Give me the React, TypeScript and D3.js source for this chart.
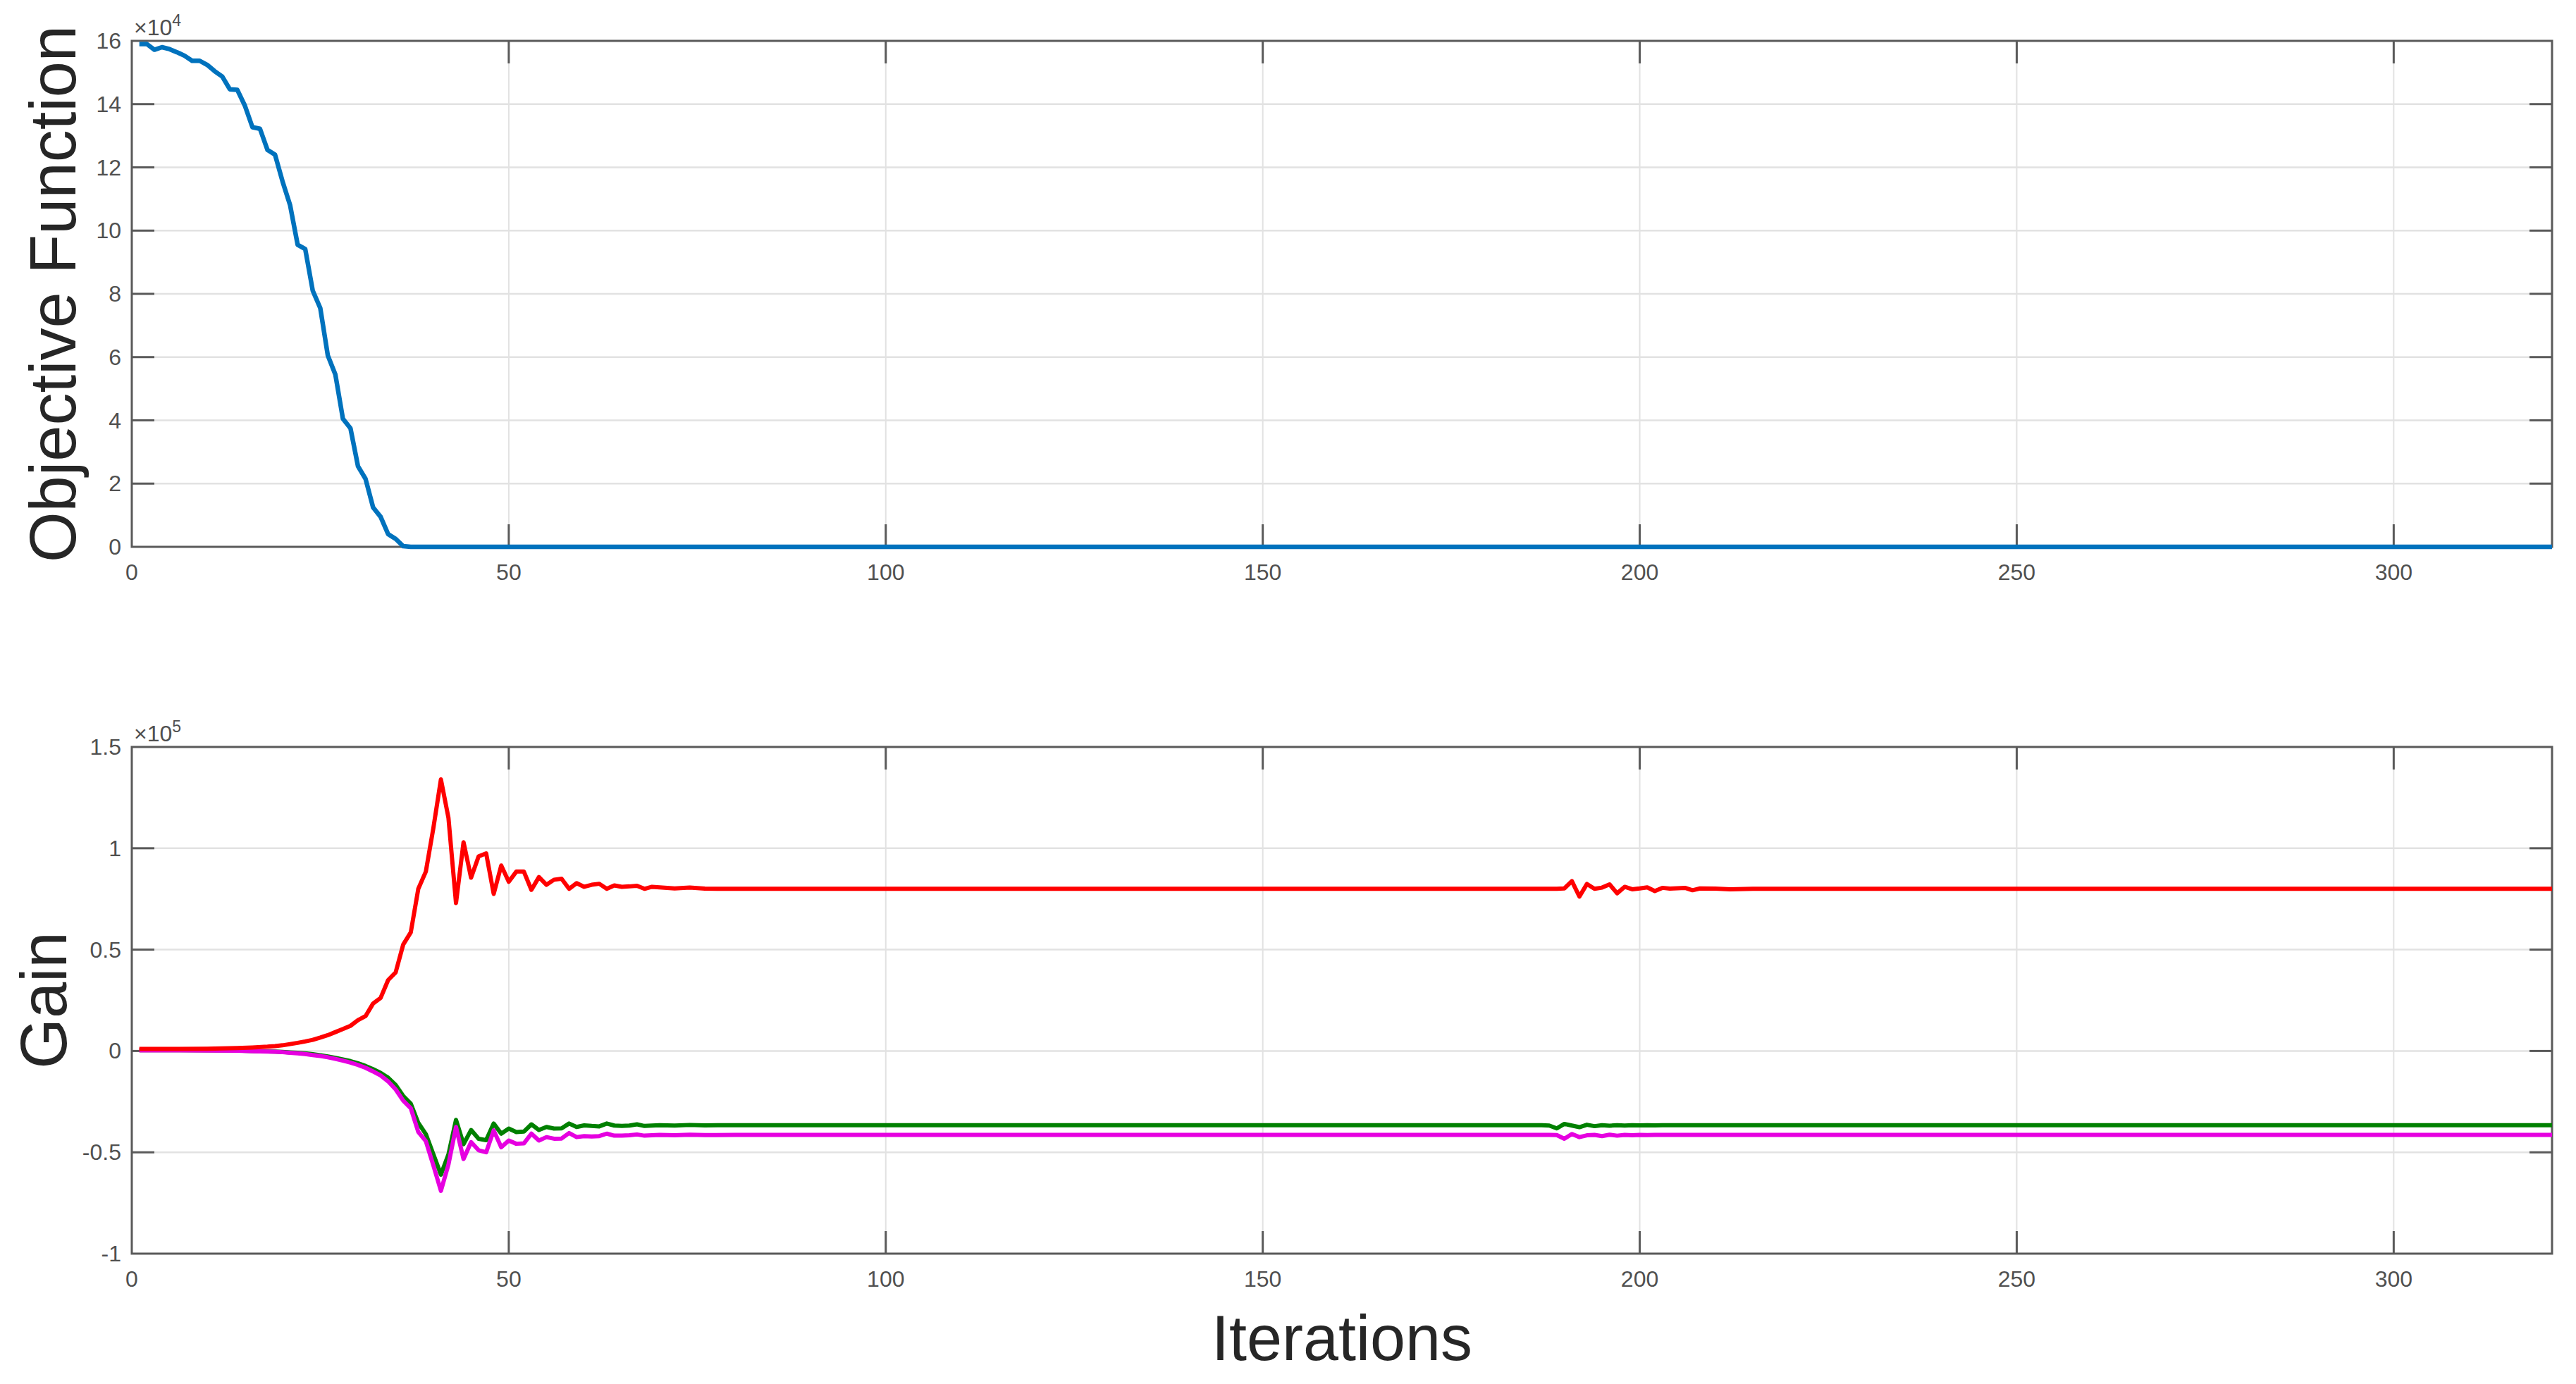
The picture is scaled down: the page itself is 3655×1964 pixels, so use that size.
import { scaleLinear, line } from "d3";

// objective function (x1e4) per iteration
const objIter = [
  1, 2, 3, 4, 5, 6, 7, 8, 9, 10, 11, 12, 13, 14, 15, 16, 17, 18, 19, 20,
  21, 22, 23, 24, 25, 26, 27, 28, 29, 30, 31, 32, 33, 34, 35, 36, 37, 321,
];
const objValue = [
  15.9, 15.9, 15.72, 15.8, 15.74, 15.64, 15.53, 15.37, 15.37, 15.24, 15.04,
  14.87, 14.47, 14.45, 13.95, 13.27, 13.22, 12.55, 12.4, 11.55, 10.8, 9.55,
  9.42, 8.1, 7.55, 6.05, 5.45, 4.05, 3.75, 2.55, 2.15, 1.25, 0.95, 0.4, 0.25,
  0.02, 0, 0,
];

// gains (x1e5), shared iteration list
const gainIter = [
  1, 5, 10, 14, 16, 18, 19, 20, 21, 22, 23, 24, 25, 26, 27, 28, 29, 30, 31,
  32, 33, 34, 35, 36, 37, 38, 39, 40, 41, 42, 43, 44, 45, 46, 47, 48, 49, 50,
  51, 52, 53, 54, 55, 56, 57, 58, 59, 60, 61, 62, 63, 64, 65, 66, 67, 68, 69,
  70, 72, 74, 76, 80, 187, 188, 189, 190, 191, 192, 193, 194, 195, 196, 197,
  198, 199, 200, 201, 202, 203, 204, 205, 206, 207, 208, 210, 212, 215, 321,
];
const gainRed = [
  0.01, 0.01, 0.011, 0.014, 0.017, 0.021, 0.024, 0.028, 0.034, 0.04, 0.047,
  0.055, 0.066, 0.078, 0.093, 0.108, 0.124, 0.152, 0.172, 0.234, 0.262, 0.35,
  0.388, 0.525, 0.585, 0.8, 0.885, 1.1, 1.34, 1.15, 0.73, 1.03, 0.855, 0.96,
  0.975, 0.775, 0.915, 0.835, 0.885, 0.885, 0.795, 0.858, 0.82, 0.845, 0.85,
  0.8, 0.828, 0.81, 0.82, 0.825, 0.8, 0.817, 0.81, 0.812, 0.815, 0.8, 0.81,
  0.807, 0.802, 0.806, 0.801, 0.8, 0.8, 0.8, 0.8, 0.802, 0.838, 0.762, 0.824,
  0.8, 0.806, 0.822, 0.778, 0.81, 0.798, 0.802, 0.807, 0.789, 0.805, 0.801,
  0.803, 0.805, 0.793, 0.802, 0.801, 0.798, 0.8, 0.8,
];
const gainGreen = [
  0.004, 0.004, 0.003, 0.002, 0, -0.002, -0.003, -0.005, -0.007, -0.009,
  -0.012, -0.016, -0.021, -0.027, -0.034, -0.042, -0.05, -0.061, -0.074,
  -0.09, -0.108, -0.132, -0.168, -0.222, -0.26, -0.355, -0.41, -0.51, -0.61,
  -0.51, -0.34, -0.46, -0.39, -0.433, -0.44, -0.358, -0.408, -0.383, -0.4,
  -0.398, -0.362, -0.39, -0.375, -0.383, -0.382, -0.358, -0.375, -0.367,
  -0.37, -0.372, -0.358, -0.368, -0.37, -0.368, -0.362, -0.37, -0.368,
  -0.366, -0.368, -0.365, -0.367, -0.366, -0.366, -0.368, -0.382, -0.36,
  -0.368, -0.376, -0.364, -0.371, -0.366, -0.369, -0.366, -0.368, -0.366,
  -0.367, -0.366, -0.367, -0.366, -0.366, -0.366, -0.366, -0.366, -0.366,
  -0.366, -0.366, -0.366, -0.366,
];
const gainMagenta = [
  0.003, 0.003, 0.002, 0.001, -0.001, -0.003, -0.004, -0.006, -0.009, -0.012,
  -0.015, -0.02, -0.025, -0.031, -0.039, -0.048, -0.057, -0.069, -0.083,
  -0.101, -0.121, -0.15, -0.19, -0.245, -0.282, -0.4, -0.445, -0.565, -0.69,
  -0.56, -0.375, -0.533, -0.45, -0.49, -0.5, -0.392, -0.475, -0.442, -0.458,
  -0.456, -0.408, -0.442, -0.425, -0.433, -0.432, -0.405, -0.425, -0.42,
  -0.422, -0.42, -0.408, -0.418, -0.418, -0.416, -0.412, -0.418, -0.416,
  -0.414, -0.416, -0.413, -0.415, -0.414, -0.414, -0.414, -0.415, -0.433,
  -0.41, -0.425, -0.416, -0.414, -0.42, -0.413, -0.418, -0.414, -0.416,
  -0.414, -0.415, -0.414, -0.414, -0.414, -0.414, -0.414, -0.414, -0.414,
  -0.414, -0.414, -0.414, -0.414,
];

const xTicks = [0, 50, 100, 150, 200, 250, 300];
const objTicks = [0, 2, 4, 6, 8, 10, 12, 14, 16];
const gainTicks = [-1, -0.5, 0, 0.5, 1, 1.5];

const WIDTH = 3655;
const HEIGHT = 1964;
const LEFT = 187;
const RIGHT = 3621;
const X_MAX = 321;
const FONT = "'Liberation Sans', Arial, Helvetica, sans-serif";
const AXIS_COLOR = "#5a5a5a";
const TICK_TEXT = "#505050";
const LABEL_COLOR = "#262626";
const TICK_LEN = 32;

type Series = { xs: number[]; ys: number[]; color: string; width: number };

function Panel({ top, bottom, yDomain, yTicks, exponent, series, ylabel, ylabelX }: {
  top: number;
  bottom: number;
  yDomain: [number, number];
  yTicks: number[];
  exponent: string;
  series: Series[];
  ylabel: string;
  ylabelX: number;
}) {
  const x = scaleLinear().domain([0, X_MAX]).range([LEFT, RIGHT]);
  const y = scaleLinear().domain(yDomain).range([bottom, top]);

  return (
    <g>
      {/* grid */}
      {xTicks.slice(1).map((t) => (
        <line key={"gx" + t} x1={x(t)} x2={x(t)} y1={top} y2={bottom} stroke="#e2e2e2" strokeWidth={2} />
      ))}
      {yTicks.slice(1, -1).map((t) => (
        <line key={"gy" + t} x1={LEFT} x2={RIGHT} y1={y(t)} y2={y(t)} stroke="#e2e2e2" strokeWidth={2.5} />
      ))}

      {/* box and inner ticks */}
      <rect x={LEFT} y={top} width={RIGHT - LEFT} height={bottom - top} fill="none" stroke={AXIS_COLOR} strokeWidth={3} />
      {xTicks.slice(1).map((t) => (
        <g key={"tx" + t}>
          <line x1={x(t)} x2={x(t)} y1={bottom} y2={bottom - TICK_LEN} stroke={AXIS_COLOR} strokeWidth={3} />
          <line x1={x(t)} x2={x(t)} y1={top} y2={top + TICK_LEN} stroke={AXIS_COLOR} strokeWidth={3} />
        </g>
      ))}
      {yTicks.slice(1, -1).map((t) => (
        <g key={"ty" + t}>
          <line x1={LEFT} x2={LEFT + TICK_LEN} y1={y(t)} y2={y(t)} stroke={AXIS_COLOR} strokeWidth={3} />
          <line x1={RIGHT} x2={RIGHT - TICK_LEN} y1={y(t)} y2={y(t)} stroke={AXIS_COLOR} strokeWidth={3} />
        </g>
      ))}

      {/* tick labels */}
      {xTicks.map((t) => (
        <text key={"lx" + t} x={x(t)} y={bottom + 47} textAnchor="middle" fontSize={32} fill={TICK_TEXT}>
          {t}
        </text>
      ))}
      {yTicks.map((t) => (
        <text key={"ly" + t} x={LEFT - 15} y={y(t) + 11} textAnchor="end" fontSize={32} fill={TICK_TEXT}>
          {t}
        </text>
      ))}
      <text x={LEFT + 3} y={top - 8} fontSize={32} fill={TICK_TEXT}>
        {"\u00d710"}
        <tspan fontSize={23} dy={-13}>{exponent}</tspan>
      </text>

      {/* data */}
      {series.map((s, i) => {
        const pts = s.xs.map((v, j) => [v, s.ys[j]] as [number, number]);
        const path = line<[number, number]>()
          .x((d) => x(d[0]))
          .y((d) => y(d[1]))(pts);
        return (
          <path key={i} d={path ?? ""} fill="none" stroke={s.color} strokeWidth={s.width} strokeLinejoin="round" />
        );
      })}

      <text
        transform={`translate(${ylabelX},${(top + bottom) / 2}) rotate(-90)`}
        textAnchor="middle"
        fontSize={92}
        fill={LABEL_COLOR}
      >
        {ylabel}
      </text>
    </g>
  );
}

export default function App() {
  return (
    <svg
      width={WIDTH}
      height={HEIGHT}
      style={{ position: "absolute", left: 0, top: 0, background: "#fff" }}
      fontFamily={FONT}
    >
      <rect width={WIDTH} height={HEIGHT} fill="#fff" />
      <Panel
        top={58}
        bottom={776}
        yDomain={[0, 16]}
        yTicks={objTicks}
        exponent="4"
        ylabel="Objective Function"
        ylabelX={107}
        series={[{ xs: objIter, ys: objValue, color: "#0072BD", width: 6.5 }]}
      />
      <Panel
        top={1060}
        bottom={1779}
        yDomain={[-1, 1.5]}
        yTicks={gainTicks}
        exponent="5"
        ylabel="Gain"
        ylabelX={94}
        series={[
          { xs: gainIter, ys: gainGreen, color: "#008000", width: 6 },
          { xs: gainIter, ys: gainMagenta, color: "#e600e0", width: 6 },
          { xs: gainIter, ys: gainRed, color: "#ff0000", width: 6 },
        ]}
      />
      <text x={(LEFT + RIGHT) / 2} y={1930} textAnchor="middle" fontSize={90} fill={LABEL_COLOR}>
        Iterations
      </text>
    </svg>
  );
}
